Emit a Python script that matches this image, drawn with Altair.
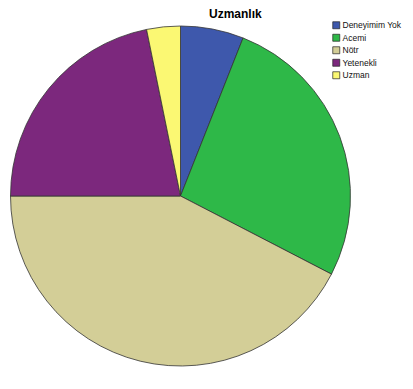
import altair as alt
import pandas as pd

categories = ["Deneyimim Yok", "Acemi", "Nötr", "Yetenekli", "Uzman"]
values = [6.0, 26.6, 42.4, 21.8, 3.2]
colors = ["#3E58AC", "#2EB848", "#D3CE97", "#7C287D", "#FBF873"]

df = pd.DataFrame({"kategori": categories, "deger": values, "sira": list(range(len(categories)))})

chart = alt.Chart(df).mark_arc(
    stroke="#333333", strokeWidth=0.8, radius=170
).encode(
    theta=alt.Theta("deger:Q", stack=True),
    order=alt.Order("sira:Q"),
    x=alt.value(172.5),
    y=alt.value(188),
    color=alt.Color(
        "kategori:N",
        sort=categories,
        scale=alt.Scale(domain=categories, range=colors),
        legend=alt.Legend(
            title=None,
            orient="none",
            legendX=324,
            legendY=13,
            symbolType="square",
            symbolSize=49,
            symbolStrokeColor="#222222",
            symbolStrokeWidth=0.7,
            symbolOpacity=1,
            labelFont="Liberation Sans",
            labelFontSize=8.5,
            labelColor="#111111",
            labelOffset=2,
            rowPadding=1.5,
            padding=0,
            labelLimit=200,
        ),
    ),
).properties(
    width=397,
    height=359,
    autosize=alt.AutoSizeParams(type="none"),
    padding=0,
    title=alt.TitleParams(
        "Uzmanlık",
        font="Liberation Sans",
        fontSize=12,
        fontWeight="bold",
        color="#000000",
        anchor="start",
        dx=201,
        dy=17,
    ),
).configure_view(stroke=None)

chart.save("out.html", embed_options={"renderer": "svg", "actions": False})
